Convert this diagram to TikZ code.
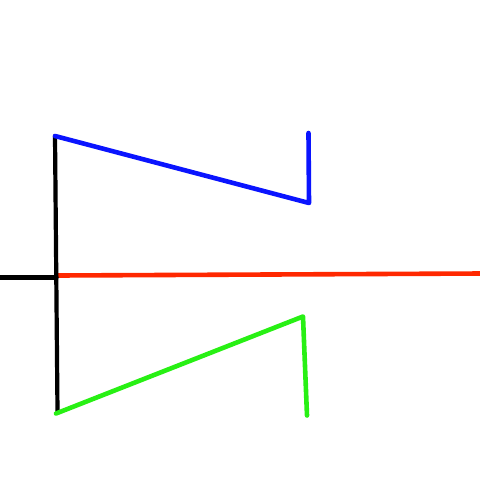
\documentclass[tikz,border=0pt]{standalone}
\begin{document}
\begin{tikzpicture}[x=1pt,y=-1pt,
  seg/.style={line width=4.6pt,line cap=round,line join=round}]
\useasboundingbox (0,0) rectangle (480,480);
\coordinate (L) at (-2,277.5);
\coordinate (J) at (56.5,277.5);
\coordinate (T) at (55,136);
\coordinate (B) at (57.5,411.5);
\coordinate (R0) at (58,275.5);
\coordinate (R1) at (482,273.5);
\coordinate (BC) at (309,203);
\coordinate (BE) at (308.5,133);
\coordinate (GS) at (56,413.5);
\coordinate (GC) at (303,316.5);
\coordinate (GE) at (307,415.5);
\draw[seg,color={rgb,255:red,255;green,40;blue,0}] (R0) -- (R1);
\draw[seg,line width=4.2pt,black] (L) -- (J);
\draw[seg,line width=4.2pt,black] (T) -- (B);
\draw[seg,color={rgb,255:red,10;green,20;blue,255}] (T) -- (BC) -- (BE);
\draw[seg,color={rgb,255:red,40;green,240;blue,20}] (GS) -- (GC) -- (GE);
\end{tikzpicture}
\end{document}
